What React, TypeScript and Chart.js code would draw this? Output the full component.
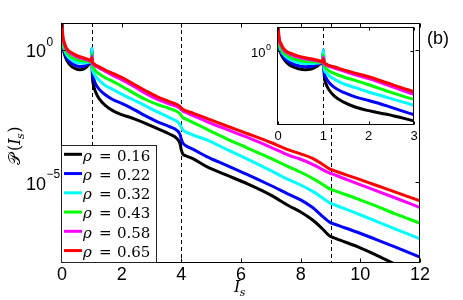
import React, { useEffect, useRef } from "react";
import { Chart, registerables } from "chart.js";

Chart.register(...registerables);

// ---- data (log10 of P(I_s)) ----
const xs = [0, 0.01, 0.03, 0.07, 0.12, 0.2, 0.3, 0.45, 0.6, 0.75, 0.85, 0.93, 0.98, 1.0, 1.02, 1.06, 1.12, 1.25, 1.45, 1.7, 2.0, 2.4, 2.8, 3.2, 3.6, 3.85, 3.95, 4.0, 4.05, 4.15, 4.4, 4.85, 5.5, 6.2, 7.0, 7.6, 8.0, 8.4, 8.7, 8.9, 9.0, 9.1, 9.3, 9.9, 10.5, 11.2, 12];

const log10P_016 = [1.3, 0.55, 0.15, -0.12, -0.3, -0.48, -0.62, -0.72, -0.76, -0.72, -0.63, -0.53, -0.47, -0.05, -1.0, -1.35, -1.58, -1.86, -2.1, -2.3, -2.45, -2.6, -2.78, -2.98, -3.18, -3.35, -3.52, -3.78, -3.93, -4.0, -4.12, -4.41, -4.72, -5.05, -5.48, -5.88, -6.12, -6.42, -6.72, -6.95, -7.04, -7.08, -7.17, -7.42, -7.72, -8.1, -8.5];
const log10P_022 = [1.3, 0.6, 0.2, -0.05, -0.22, -0.38, -0.5, -0.6, -0.64, -0.62, -0.56, -0.5, -0.47, 0.05, -0.85, -1.1, -1.28, -1.5, -1.7, -1.88, -2.03, -2.25, -2.5, -2.72, -2.9, -3.04, -3.18, -3.38, -3.52, -3.62, -3.76, -4.03, -4.35, -4.7, -5.12, -5.45, -5.66, -5.95, -6.25, -6.44, -6.52, -6.56, -6.64, -6.88, -7.14, -7.45, -7.82];
const log10P_032 = [1.3, 0.65, 0.25, 0.03, -0.12, -0.26, -0.37, -0.47, -0.51, -0.51, -0.49, -0.47, -0.46, 0.05, -0.72, -0.88, -1.0, -1.16, -1.35, -1.5, -1.68, -1.9, -2.12, -2.35, -2.56, -2.7, -2.82, -2.93, -3.03, -3.1, -3.22, -3.4, -3.75, -4.12, -4.56, -4.9, -5.1, -5.34, -5.56, -5.72, -5.79, -5.83, -5.92, -6.18, -6.45, -6.77, -7.13];
const log10P_043 = [1.3, 0.7, 0.3, 0.1, -0.05, -0.17, -0.27, -0.36, -0.41, -0.43, -0.44, -0.45, -0.46, -0.15, -0.6, -0.7, -0.8, -0.92, -1.06, -1.2, -1.38, -1.64, -1.88, -2.07, -2.22, -2.33, -2.41, -2.49, -2.56, -2.62, -2.75, -3.0, -3.35, -3.7, -4.1, -4.42, -4.62, -4.85, -5.05, -5.2, -5.26, -5.3, -5.38, -5.62, -5.88, -6.2, -6.54];
const log10P_058 = [1.3, 0.78, 0.42, 0.24, 0.07, -0.06, -0.15, -0.25, -0.31, -0.36, -0.39, -0.42, -0.45, -0.25, -0.52, -0.57, -0.62, -0.7, -0.82, -0.97, -1.13, -1.38, -1.65, -1.88, -2.05, -2.15, -2.21, -2.27, -2.32, -2.37, -2.49, -2.71, -3.0, -3.3, -3.68, -3.98, -4.13, -4.32, -4.5, -4.62, -4.66, -4.7, -4.79, -5.05, -5.3, -5.6, -5.95];
const log10P_065 = [1.3, 0.85, 0.5, 0.3, 0.12, -0.02, -0.1, -0.2, -0.27, -0.32, -0.36, -0.4, -0.43, -0.32, -0.47, -0.52, -0.58, -0.65, -0.77, -0.9, -1.05, -1.3, -1.55, -1.78, -1.96, -2.07, -2.14, -2.2, -2.25, -2.3, -2.4, -2.59, -2.87, -3.16, -3.5, -3.78, -3.93, -4.1, -4.3, -4.45, -4.51, -4.55, -4.63, -4.86, -5.1, -5.38, -5.7];

const rhoValues = ["0.16", "0.22", "0.32", "0.43", "0.58", "0.65"];
const lineColors = ["#000000", "#0000ff", "#00ffff", "#00ff00", "#ff00ff", "#ff0000"];
const seriesLog10 = [log10P_016, log10P_022, log10P_032, log10P_043, log10P_058, log10P_065];

const mainXTicks = [0, 2, 4, 6, 8, 10, 12];
const mainYTickExponents = [0, -5];
const insetXTicks = [0, 1, 2, 3];
const insetYTickExponents = [0];
const mainDashedAt = [1, 4, 9];
const insetDashedAt = [1];

const SANS = "'Liberation Sans', Arial, sans-serif";
const SERIF = "'DejaVu Serif', serif";

function makeDatasets() {
  return seriesLog10.map((s, k) => ({
    label: "ρ = " + rhoValues[k],
    data: xs.map((x, i) => ({ x, y: Math.pow(10, s[i]) })),
    borderColor: lineColors[k],
    backgroundColor: lineColors[k],
    borderWidth: 3,
    pointRadius: 0,
    fill: false,
    cubicInterpolationMode: "monotone" as const,
    order: seriesLog10.length - k,
  }));
}

function drawDashed(chart: any, at: number[]) {
  const { ctx, chartArea: a, scales } = chart;
  ctx.save();
  ctx.strokeStyle = "#000";
  ctx.lineWidth = 1;
  ctx.setLineDash([4, 3]);
  at.forEach((v) => {
    const px = Math.round(scales.x.getPixelForValue(v)) + 0.5;
    ctx.beginPath();
    ctx.moveTo(px, a.top);
    ctx.lineTo(px, a.bottom);
    ctx.stroke();
  });
  ctx.restore();
}

function drawFrame(chart: any, xt: number[], yExp: number[], len: number) {
  const { ctx, chartArea: a, scales } = chart;
  const L = a.left - 0.5, R = a.right - 0.5, T = a.top + 0.5, B = a.bottom + 0.5;
  ctx.save();
  ctx.strokeStyle = "#000";
  ctx.lineWidth = 1;
  ctx.setLineDash([]);
  ctx.strokeRect(L, T, R - L, B - T);
  ctx.beginPath();
  xt.forEach((v) => {
    const px = Math.round(scales.x.getPixelForValue(v)) + 0.5;
    ctx.moveTo(px, B); ctx.lineTo(px, B - len);
    ctx.moveTo(px, T); ctx.lineTo(px, T + len);
  });
  yExp.forEach((e) => {
    const py = Math.round(scales.y.getPixelForValue(Math.pow(10, e))) + 0.5;
    ctx.moveTo(L, py); ctx.lineTo(L + len, py);
    ctx.moveTo(R, py); ctx.lineTo(R - len, py);
  });
  ctx.stroke();
  ctx.restore();
}

function drawTickLabels(chart: any, xt: number[], yExp: number[], size: number, supSize: number,
  xBase: number, yLeft: number, tenDy: number, supDy: number) {
  const { ctx, chartArea: a, scales } = chart;
  ctx.save();
  ctx.fillStyle = "#000";
  ctx.textBaseline = "alphabetic";
  ctx.font = `${size}px ${SANS}`;
  ctx.textAlign = "center";
  xt.forEach((v) => {
    ctx.fillText(String(v), scales.x.getPixelForValue(v), a.bottom + xBase);
  });
  ctx.textAlign = "left";
  yExp.forEach((e) => {
    const py = scales.y.getPixelForValue(Math.pow(10, e));
    ctx.font = `${size}px ${SANS}`;
    const x0 = a.left - yLeft;
    ctx.fillText("10", x0, py + tenDy);
    const w = ctx.measureText("10").width;
    ctx.font = `${supSize}px ${SANS}`;
    ctx.fillText(e < 0 ? "\u2212" + String(-e) : String(e), x0 + w + 0.5, py + supDy);
  });
  ctx.restore();
}

const mainDecor = {
  id: "mainDecor",
  beforeDatasetsDraw(chart: any) {
    drawDashed(chart, mainDashedAt);
  },
  afterDraw(chart: any) {
    const { ctx, chartArea: a } = chart;
    drawFrame(chart, mainXTicks, mainYTickExponents, 4);
    drawTickLabels(chart, mainXTicks, mainYTickExponents, 18, 12, 18, 36, 7.2, -4);

    ctx.save();
    // legend
    const lx = a.left - 0.5, ly = 145.5, lw = 95, lh = a.bottom + 0.5 - ly;
    ctx.fillStyle = "#fff";
    ctx.fillRect(lx, ly, lw, lh);
    ctx.strokeStyle = "#222";
    ctx.lineWidth = 1;
    ctx.strokeRect(lx, ly, lw, lh);
    rhoValues.forEach((r, k) => {
      const y = 154.3 + k * 19.25;
      ctx.strokeStyle = lineColors[k];
      ctx.lineWidth = 3;
      ctx.beginPath();
      ctx.moveTo(a.left + 2, y);
      ctx.lineTo(a.left + 20, y);
      ctx.stroke();
      ctx.fillStyle = "#000";
      ctx.textAlign = "left";
      ctx.textBaseline = "alphabetic";
      ctx.font = `italic 15px ${SERIF}`;
      ctx.fillText("ρ", a.left + 21, y + 6.3);
      ctx.font = `15px ${SERIF}`;
      ctx.fillText("=", a.left + 37, y + 6.3);
      ctx.fillText(r, a.left + 55, y + 6.3);
    });

    // (b)
    ctx.fillStyle = "#000";
    ctx.font = `18px ${SANS}`;
    ctx.textAlign = "left";
    ctx.fillText("(b)", 427, 44);

    // x label I_s
    ctx.font = `italic 16px ${SERIF}`;
    const wI = ctx.measureText("I").width;
    ctx.font = `italic 11px ${SERIF}`;
    const ws = ctx.measureText("s").width;
    const cx = (a.left + a.right) / 2 - 1;
    const sx = cx - (wI + ws) / 2;
    ctx.font = `italic 16px ${SERIF}`;
    ctx.fillText("I", sx, 291.5);
    ctx.font = `italic 11px ${SERIF}`;
    ctx.fillText("s", sx + wI - 0.5, 295.5);
    ctx.restore();

    // y label P(I_s), reading bottom to top, starting just above the 10^-5 label
    ctx.save();
    ctx.fillStyle = "#000";
    ctx.textAlign = "left";
    ctx.textBaseline = "alphabetic";
    ctx.translate(20, 165);
    ctx.rotate(-Math.PI / 2);
    let px = 0;
    ctx.font = `16px ${SERIF}`;
    ctx.fillText("\u{1D4AB}", px, 0);
    px += 14;
    ctx.fillText("(", px, 0);
    px += ctx.measureText("(").width;
    ctx.font = `italic 16px ${SERIF}`;
    ctx.fillText("I", px, 0);
    px += ctx.measureText("I").width;
    ctx.font = `italic 11px ${SERIF}`;
    ctx.fillText("s", px - 0.5, 4);
    px += ctx.measureText("s").width;
    ctx.font = `16px ${SERIF}`;
    ctx.fillText(")", px, 0);
    ctx.restore();
  },
};

const insetDecor = {
  id: "insetDecor",
  beforeDatasetsDraw(chart: any) {
    const { ctx, chartArea: a } = chart;
    ctx.save();
    ctx.fillStyle = "#fff";
    ctx.fillRect(a.left - 1, a.top, a.right - a.left + 1, a.bottom - a.top + 1);
    ctx.restore();
    drawDashed(chart, insetDashedAt);
  },
  afterDraw(chart: any) {
    drawFrame(chart, insetXTicks, insetYTickExponents, 3);
    drawTickLabels(chart, insetXTicks, insetYTickExponents, 13, 9, 16, 27, 6, -1);
  },
};

export default function App() {
  const mainRef = useRef<HTMLCanvasElement | null>(null);
  const insetRef = useRef<HTMLCanvasElement | null>(null);

  useEffect(() => {
    document.body.style.margin = "0";
    const common = {
      animation: false as const,
      responsive: false,
      maintainAspectRatio: false,
      devicePixelRatio: 1,
      events: [] as any[],
      plugins: { legend: { display: false }, tooltip: { enabled: false } },
    };
    const main = new Chart(mainRef.current as HTMLCanvasElement, {
      type: "line",
      data: { datasets: makeDatasets() as any },
      options: {
        ...common,
        layout: { padding: { left: 62, top: 23, right: 43, bottom: 38 } },
        scales: {
          x: { type: "linear", min: 0, max: 12, display: false },
          y: { type: "logarithmic", min: 1e-8, max: 10, display: false },
        },
      } as any,
      plugins: [mainDecor],
    });
    const inset = new Chart(insetRef.current as HTMLCanvasElement, {
      type: "line",
      data: { datasets: makeDatasets() as any },
      options: {
        ...common,
        layout: { padding: { left: 48, top: 12, right: 16, bottom: 26 } },
        scales: {
          x: { type: "linear", min: 0, max: 3, display: false },
          y: { type: "logarithmic", min: 1e-3, max: 10, display: false },
        },
      } as any,
      plugins: [insetDecor],
    });
    return () => {
      main.destroy();
      inset.destroy();
    };
  }, []);

  return (
    <div style={{ position: "relative", width: 463, height: 300, background: "#fff" }}>
      <canvas ref={mainRef} width={463} height={300}
        style={{ position: "absolute", left: 0, top: 0, width: 463, height: 300 }} />
      <canvas ref={insetRef} width={200} height={135}
        style={{ position: "absolute", left: 230, top: 15, width: 200, height: 135 }} />
    </div>
  );
}
